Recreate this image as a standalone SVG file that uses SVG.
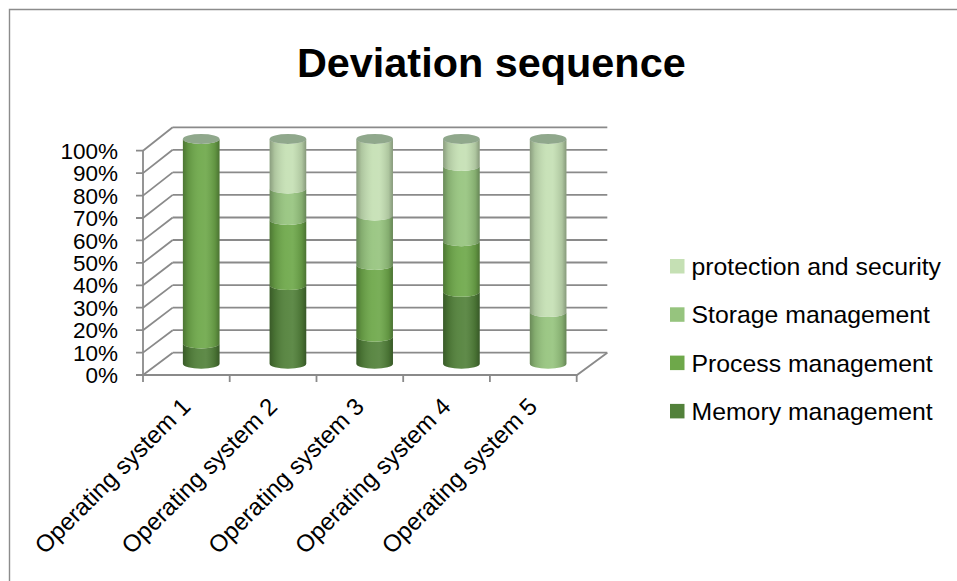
<svg xmlns="http://www.w3.org/2000/svg" width="957" height="581" viewBox="0 0 957 581">
<defs>
<linearGradient id="shade" x1="0" y1="0" x2="1" y2="0">
<stop offset="0" stop-color="#000" stop-opacity="0.30"/>
<stop offset="0.14" stop-color="#000" stop-opacity="0.12"/>
<stop offset="0.45" stop-color="#fff" stop-opacity="0.06"/>
<stop offset="0.62" stop-color="#fff" stop-opacity="0.08"/>
<stop offset="0.88" stop-color="#000" stop-opacity="0.12"/>
<stop offset="1" stop-color="#000" stop-opacity="0.32"/>
</linearGradient>
<style>
.grid{stroke:#8a8a8a;stroke-width:1.8;fill:none}
.border{stroke:#8c8c8c;stroke-width:1.4;fill:none}
.mem{fill:#52813a}
.proc{fill:#6ea84a}
.sto{fill:#96c47e}
.prot{fill:#c5e0b4}
.cap{fill:#90a88c}
.ov{fill:url(#shade)}
.ylbl{font-family:"Liberation Sans",Arial,sans-serif;font-size:22.5px;fill:#000}
.xlbl{font-family:"Liberation Sans",Arial,sans-serif;font-size:24px;fill:#000}
.leg{font-family:"Liberation Sans",Arial,sans-serif;font-size:24.8px;fill:#000}
.title{font-family:"Liberation Sans",Arial,sans-serif;font-size:41.4px;font-weight:bold;fill:#000}
</style>
</defs>
<rect width="957" height="581" fill="#fff"/>
<path class="border" d="M9.5 581 V9.5 H957"/>
<text class="title" x="491.3" y="77" text-anchor="middle">Deviation sequence</text>

<g id="gridlines">
<path class="grid" d="M172.7 127.3 H607.3 M172.7 149.8 H607.3 M172.7 172.4 H607.3 M172.7 194.9 H607.3 M172.7 217.5 H607.3 M172.7 240 H607.3 M172.7 262.5 H607.3 M172.7 285.1 H607.3 M172.7 307.6 H607.3 M172.7 330.2 H607.3 M172.7 352.7 H607.3"/>
<path class="grid" d="M143 150.7 L172.7 127.3 M143 173.1 L172.7 149.8 M143 195.6 L172.7 172.4 M143 218 L172.7 194.9 M143 240.4 L172.7 217.5 M143 262.9 L172.7 240 M143 285.3 L172.7 262.5 M143 307.7 L172.7 285.1 M143 330.2 L172.7 307.6 M143 352.6 L172.7 330.2 M143 375 L172.7 352.7"/>
<path class="grid" d="M143 150.7 V382 M143 375 H577 L607.3 352.7"/>
<path class="grid" d="M136 150.7 H143 M136 173.1 H143 M136 195.6 H143 M136 218 H143 M136 240.4 H143 M136 262.9 H143 M136 285.3 H143 M136 307.7 H143 M136 330.2 H143 M136 352.6 H143 M136 375 H143"/>
<path class="grid" d="M229.7 375 V382 M316.5 375 V382 M403.2 375 V382 M489.9 375 V382 M576.7 375 V382"/>
</g>

<g id="y-labels" class="ylbl" text-anchor="end">
<text x="118" y="158.8">100%</text>
<text x="118" y="181.2">90%</text>
<text x="118" y="203.7">80%</text>
<text x="118" y="226.1">70%</text>
<text x="118" y="248.5">60%</text>
<text x="118" y="271">50%</text>
<text x="118" y="293.4">40%</text>
<text x="118" y="315.8">30%</text>
<text x="118" y="338.3">20%</text>
<text x="118" y="360.7">10%</text>
<text x="118" y="383.1">0%</text>
</g>

<g id="cyl1">
<path class="mem" d="M182.9 343.57 A18.3 5 0 0 0 219.5 343.57 L219.5 363.8 A18.3 5 0 0 1 182.9 363.8 Z"/>
<path class="proc" d="M182.9 139 A18.3 5 0 0 0 219.5 139 L219.5 343.57 A18.3 5 0 0 1 182.9 343.57 Z"/>
<path class="ov" d="M182.9 139 L182.9 363.8 A18.3 5 0 0 0 219.5 363.8 L219.5 139 Z"/>
<ellipse class="cap" cx="201.2" cy="139" rx="18.3" ry="5"/>
</g>

<g id="cyl2">
<path class="mem" d="M269.63 285.12 A18.3 5 0 0 0 306.23 285.12 L306.23 363.8 A18.3 5 0 0 1 269.63 363.8 Z"/>
<path class="proc" d="M269.63 219.93 A18.3 5 0 0 0 306.23 219.93 L306.23 285.12 A18.3 5 0 0 1 269.63 285.12 Z"/>
<path class="sto" d="M269.63 188.46 A18.3 5 0 0 0 306.23 188.46 L306.23 219.93 A18.3 5 0 0 1 269.63 219.93 Z"/>
<path class="prot" d="M269.63 139 A18.3 5 0 0 0 306.23 139 L306.23 188.46 A18.3 5 0 0 1 269.63 188.46 Z"/>
<path class="ov" d="M269.63 139 L269.63 363.8 A18.3 5 0 0 0 306.23 363.8 L306.23 139 Z"/>
<ellipse class="cap" cx="287.93" cy="139" rx="18.3" ry="5"/>
</g>

<g id="cyl3">
<path class="mem" d="M356.36 336.82 A18.3 5 0 0 0 392.96 336.82 L392.96 363.8 A18.3 5 0 0 1 356.36 363.8 Z"/>
<path class="proc" d="M356.36 264.89 A18.3 5 0 0 0 392.96 264.89 L392.96 336.82 A18.3 5 0 0 1 356.36 336.82 Z"/>
<path class="sto" d="M356.36 215.43 A18.3 5 0 0 0 392.96 215.43 L392.96 264.89 A18.3 5 0 0 1 356.36 264.89 Z"/>
<path class="prot" d="M356.36 139 A18.3 5 0 0 0 392.96 139 L392.96 215.43 A18.3 5 0 0 1 356.36 215.43 Z"/>
<path class="ov" d="M356.36 139 L356.36 363.8 A18.3 5 0 0 0 392.96 363.8 L392.96 139 Z"/>
<ellipse class="cap" cx="374.66" cy="139" rx="18.3" ry="5"/>
</g>

<g id="cyl4">
<path class="mem" d="M443.09 291.86 A18.3 5 0 0 0 479.69 291.86 L479.69 363.8 A18.3 5 0 0 1 443.09 363.8 Z"/>
<path class="proc" d="M443.09 241.28 A18.3 5 0 0 0 479.69 241.28 L479.69 291.86 A18.3 5 0 0 1 443.09 291.86 Z"/>
<path class="sto" d="M443.09 165.98 A18.3 5 0 0 0 479.69 165.98 L479.69 241.28 A18.3 5 0 0 1 443.09 241.28 Z"/>
<path class="prot" d="M443.09 139 A18.3 5 0 0 0 479.69 139 L479.69 165.98 A18.3 5 0 0 1 443.09 165.98 Z"/>
<path class="ov" d="M443.09 139 L443.09 363.8 A18.3 5 0 0 0 479.69 363.8 L479.69 139 Z"/>
<ellipse class="cap" cx="461.39" cy="139" rx="18.3" ry="5"/>
</g>

<g id="cyl5">
<path class="sto" d="M529.82 312.1 A18.3 5 0 0 0 566.42 312.1 L566.42 363.8 A18.3 5 0 0 1 529.82 363.8 Z"/>
<path class="prot" d="M529.82 139 A18.3 5 0 0 0 566.42 139 L566.42 312.1 A18.3 5 0 0 1 529.82 312.1 Z"/>
<path class="ov" d="M529.82 139 L529.82 363.8 A18.3 5 0 0 0 566.42 363.8 L566.42 139 Z"/>
<ellipse class="cap" cx="548.12" cy="139" rx="18.3" ry="5"/>
</g>

<g id="x-labels" class="xlbl" text-anchor="end">
<text transform="translate(192 408) rotate(-45)">Operating system 1</text>
<text transform="translate(278.7 408) rotate(-45)">Operating system 2</text>
<text transform="translate(365.4 408) rotate(-45)">Operating system 3</text>
<text transform="translate(452.1 408) rotate(-45)">Operating system 4</text>
<text transform="translate(538.8 408) rotate(-45)">Operating system 5</text>
</g>

<g id="legend">
<g id="leg-prot"><rect class="prot" x="670" y="259" width="14.5" height="14.5"/><text class="leg" x="691.5" y="275">protection and security</text></g>
<g id="leg-sto"><rect class="sto" x="670" y="307.3" width="14.5" height="14.5"/><text class="leg" x="691.5" y="323.3">Storage management</text></g>
<g id="leg-proc"><rect class="proc" x="670" y="355.6" width="14.5" height="14.5"/><text class="leg" x="691.5" y="371.6">Process management</text></g>
<g id="leg-mem"><rect class="mem" x="670" y="403.9" width="14.5" height="14.5"/><text class="leg" x="691.5" y="419.9">Memory management</text></g>
</g>
</svg>
